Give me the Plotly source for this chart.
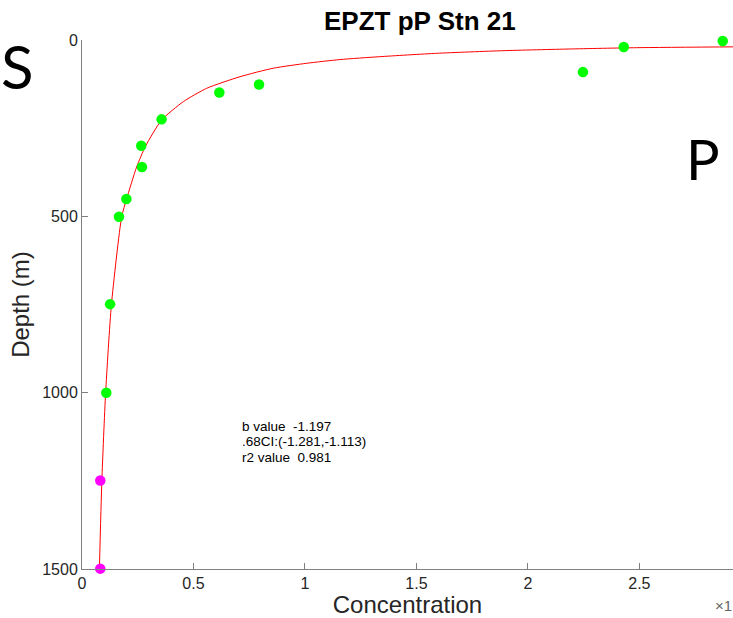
import plotly.graph_objects as go

# ---- data ----
green_conc = [2.874, 2.43, 2.247, 0.794, 0.616, 0.357, 0.266, 0.269, 0.199, 0.166, 0.126, 0.109]
green_depth = [3, 20, 91, 126, 149, 225, 300, 360, 451, 501, 749, 1000]
magenta_conc = [0.082, 0.082]
magenta_depth = [1249, 1499]
fit_conc = [2.95, 2.487, 2.188, 1.888, 1.591, 1.336, 1.157, 1.008, 0.858, 0.709, 0.559,
            0.454, 0.357, 0.285, 0.245, 0.2, 0.178, 0.132, 0.106, 0.089, 0.078]
fit_depth = [19.3, 21.8, 25.5, 30.3, 37.7, 47.3, 55.5, 66, 80, 104, 137,
             175, 227, 301, 360, 451, 501, 750, 1000, 1250, 1500]
x_ticks = [0, 0.5, 1, 1.5, 2, 2.5]
x_tick_labels = ["0", "0.5", "1", "1.5", "2", "2.5"]
y_ticks = [0, 500, 1000, 1500]
y_tick_labels = ["0", "500", "1000", "1500"]
stats_lines = ["b value  -1.197", ".68CI:(-1.281,-1.113)", "r2 value  0.981"]

W, H = 733, 618
ML, MR, MT, MB = 82, 0, 40, 49
PW, PH = W - ML - MR, H - MT - MB


def px(xp):
    return (xp - ML) / PW


def py(yp):
    return (H - MB - yp) / PH


font = "Liberation Sans, Arial, Helvetica, sans-serif"
axcol = "#808080"
txtcol = "#262626"

fig = go.Figure()
fig.add_trace(go.Scatter(x=fit_conc, y=fit_depth, mode="lines",
                         line=dict(color="#ff0000", width=1, shape="spline", smoothing=0.6),
                         cliponaxis=True, hoverinfo="skip"))
fig.add_trace(go.Scatter(x=green_conc, y=green_depth, mode="markers",
                         marker=dict(color="#00ff00", size=10.5, line=dict(width=0)),
                         cliponaxis=False))
fig.add_trace(go.Scatter(x=magenta_conc, y=magenta_depth, mode="markers",
                         marker=dict(color="#ff00ff", size=10.5, line=dict(width=0)),
                         cliponaxis=False))

fig.update_layout(
    width=W, height=H,
    margin=dict(l=ML, r=MR, t=MT, b=MB, pad=0),
    paper_bgcolor="white", plot_bgcolor="white",
    showlegend=False,
    font=dict(family=font, color=txtcol),
    xaxis=dict(range=[0, 2.92], tickvals=x_ticks, ticktext=x_tick_labels,
               showgrid=False, zeroline=False, showline=True, linecolor=axcol, linewidth=1,
               ticks="inside", ticklen=6, tickcolor=axcol, tickwidth=1,
               tickfont=dict(size=16, color=txtcol),
               title=dict(text="Concentration", font=dict(size=24, color=txtcol), standoff=2)),
    yaxis=dict(range=[1500, 0], tickvals=y_ticks, ticktext=y_tick_labels,
               showgrid=False, zeroline=False, showline=True, linecolor=axcol, linewidth=1,
               ticks="inside", ticklen=6, tickcolor=axcol, tickwidth=1,
               tickfont=dict(size=16, color=txtcol),
               title=dict(text="Depth (m)", font=dict(size=24, color=txtcol), standoff=5)),
)

anns = [
    dict(text="<b>EPZT pP Stn 21</b>", x=px(420), y=py(21), xanchor="center", yanchor="middle",
         font=dict(size=26, color="#000000", family=font)),
    dict(text="×1", x=px(713), y=py(605), xanchor="left", yanchor="middle",
         font=dict(size=15, color="#666666", family=font)),
    dict(text="S", x=px(0), y=py(66), xanchor="left", yanchor="middle", borderpad=0,
         font=dict(size=60, color="#000000", family="Lato, Open Sans, sans-serif")),
    dict(text="P", x=px(684), y=py(158), xanchor="left", yanchor="middle",
         font=dict(size=56, color="#000000", family="Lato, Open Sans, sans-serif")),
]
for i, line in enumerate(stats_lines):
    anns.append(dict(text=line, x=px(241), y=py(426 + 15.6 * i), xanchor="left",
                     yanchor="middle", align="left", borderpad=0,
                     font=dict(size=13.5, color="#000000", family=font)))
for a in anns:
    a.update(xref="paper", yref="paper", showarrow=False)
    fig.add_annotation(**a)

fig.write_html("out.html")
